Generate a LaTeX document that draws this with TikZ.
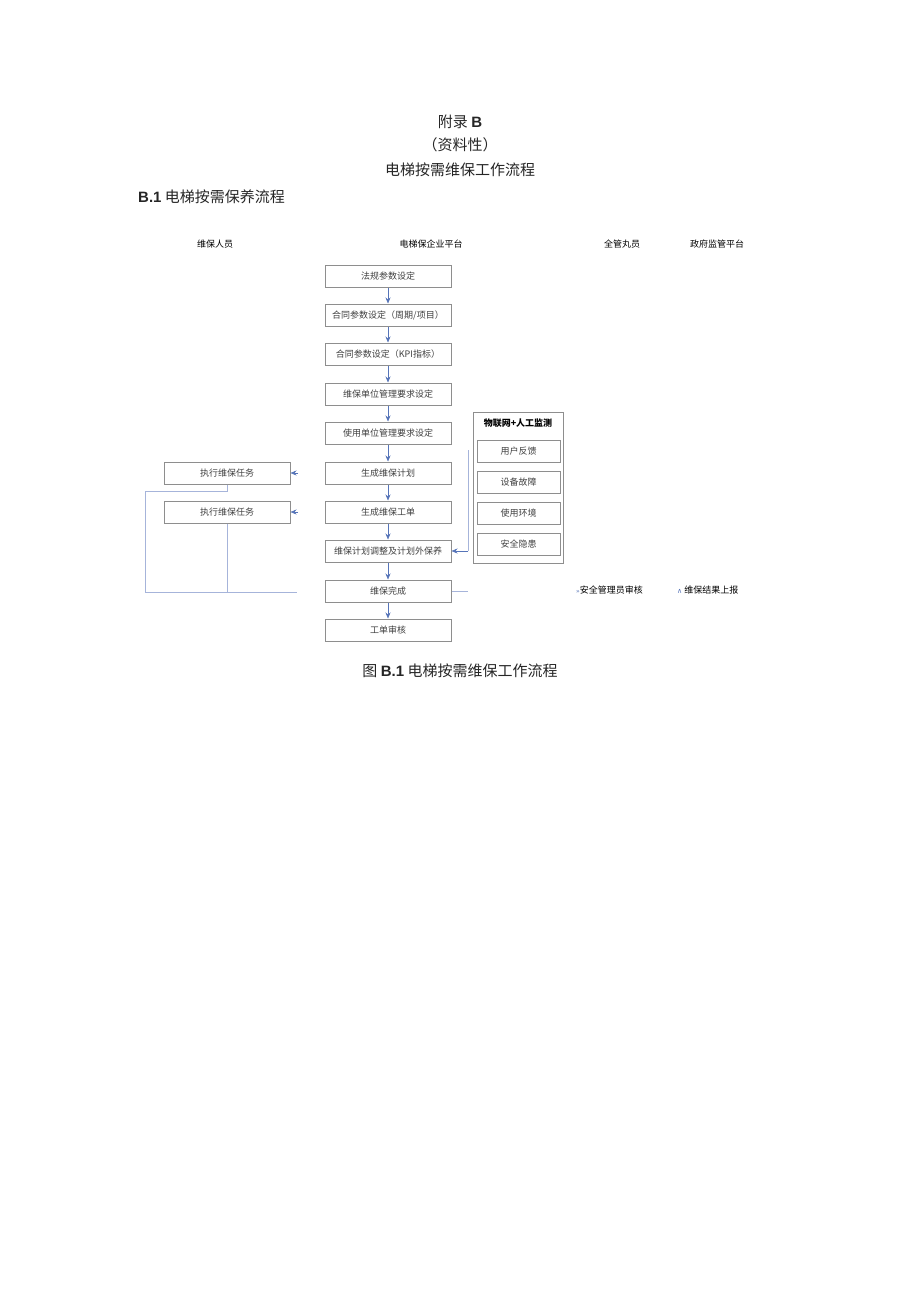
\documentclass[tikz,border=0pt]{standalone}
\usepackage{fontspec}
\setmainfont{Noto Sans CJK SC}
\newfontfamily\latinb{Liberation Sans}
\newfontfamily\dejavu{DejaVu Sans}
\usetikzlibrary{arrows.meta}
\definecolor{boxgray}{HTML}{8E8E8E}
\definecolor{arrblue}{HTML}{5674B8}
\definecolor{lineblue}{HTML}{A6B4DA}
\tikzset{
  mainbox/.style={draw=boxgray, line width=1pt, minimum width=126pt, minimum height=22pt, inner sep=0pt, font=\fontsize{9}{10}\selectfont, text=black!75},
  sidebox/.style={draw=boxgray, line width=1pt, minimum width=83pt, minimum height=22pt, inner sep=0pt, font=\fontsize{9}{10}\selectfont, text=black!75},
  arr/.style={draw=arrblue, line width=0.6pt, -{Stealth[length=6pt,width=5pt]}},
  conn/.style={draw=lineblue, line width=0.9pt},
  hdr/.style={font=\fontsize{9}{10}\selectfont, inner sep=0pt},
  title/.style={font=\fontsize{15}{17}\selectfont, inner sep=0pt, text=black!85}
}
\begin{document}
\begin{tikzpicture}[x=1pt,y=-1pt]
\useasboundingbox[fill=white] (0,0) rectangle (920,1301);
% titles
\node[title] (t1) at (460,122) {附录 {\latinb\bfseries B}};
\node[title] (t2) at (460,145) {（资料性）};
\node[title] (t3) at (460,170) {电梯按需维保工作流程};
\node[title, anchor=west] (t4) at (138,197) {{\latinb\bfseries B.1} 电梯按需保养流程};
% column headers
\node[hdr] (h1) at (215,244) {维保人员};
\node[hdr] (h2) at (431,244) {电梯保企业平台};
\node[hdr] (h3) at (622,244) {全管丸员};
\node[hdr] (h4) at (717,244) {政府监管平台};
% main column
\node[mainbox] (a1) at (388,276) {法规参数设定};
\node[mainbox] (a2) at (388,315) {合同参数设定（周期/项目）};
\node[mainbox] (a3) at (388,354) {合同参数设定（KPI指标）};
\node[mainbox] (a4) at (388,394) {维保单位管理要求设定};
\node[mainbox] (a5) at (388,433) {使用单位管理要求设定};
\node[mainbox] (a6) at (388,473) {生成维保计划};
\node[mainbox] (a7) at (388,512) {生成维保工单};
\node[mainbox] (a8) at (388,551) {维保计划调整及计划外保养};
\node[mainbox] (a9) at (388,591) {维保完成};
\node[mainbox] (a10) at (388,630) {工单审核};
\foreach \i/\j in {a1/a2,a2/a3,a3/a4,a4/a5,a5/a6,a6/a7,a7/a8,a8/a9,a9/a10}
  \draw[arr] (\i.south) -- (\j.north);
% left boxes
\node[mainbox] (l1) at (227,473) {执行维保任务};
\node[mainbox] (l2) at (227,512) {执行维保任务};
\coordinate (s1) at (298,473);
\coordinate (s2) at (298,512);
\draw[arr] (s1) -- (l1.east);
\draw[arr] (s2) -- (l2.east);
% left loop lines
\coordinate (lc1) at (227,491);
\coordinate (lc2) at (145,491);
\coordinate (lc3) at (145,592);
\coordinate (lc4) at (297,592);
\coordinate (lc5) at (227,592);
\draw[conn] (l1.south) -- (lc1) -- (lc2) -- (lc3) -- (lc4);
\draw[conn] (l2.south) -- (lc5);
% monitoring box
\node[draw=boxgray, line width=1pt, minimum width=90pt, minimum height=151pt, inner sep=0pt] (mon) at (518,487.5) {};
\node[font=\fontsize{9}{10}\selectfont\bfseries, inner sep=0pt] (mt) at (518,423) {物联网+人工监测};
\node[sidebox] (m1) at (518.5,451) {用户反馈};
\node[sidebox] (m2) at (518.5,482) {设备故障};
\node[sidebox] (m3) at (518.5,513) {使用环境};
\node[sidebox] (m4) at (518.5,544) {安全隐患};
% right feedback line
\coordinate (rt) at (468,450);
\draw[conn] (rt) -- (rt |- a8.east);
\draw[arr] (rt |- a8.east) -- (a8.east);
\draw[conn] (a9.east) -- (a9.east -| rt);
% right labels
\node[hdr, anchor=west] (r1) at (576,590) {{\color{arrblue}\dejavu\fontsize{6}{7}\selectfont »}安全管理员审核};
\node[hdr, anchor=west] (r2) at (677,590) {{\color{arrblue}\dejavu\fontsize{7}{8}\selectfont ∧} 维保结果上报};
% caption
\node[title] (cap) at (460,671) {图 {\latinb\bfseries B.1} 电梯按需维保工作流程};
\end{tikzpicture}
\end{document}
